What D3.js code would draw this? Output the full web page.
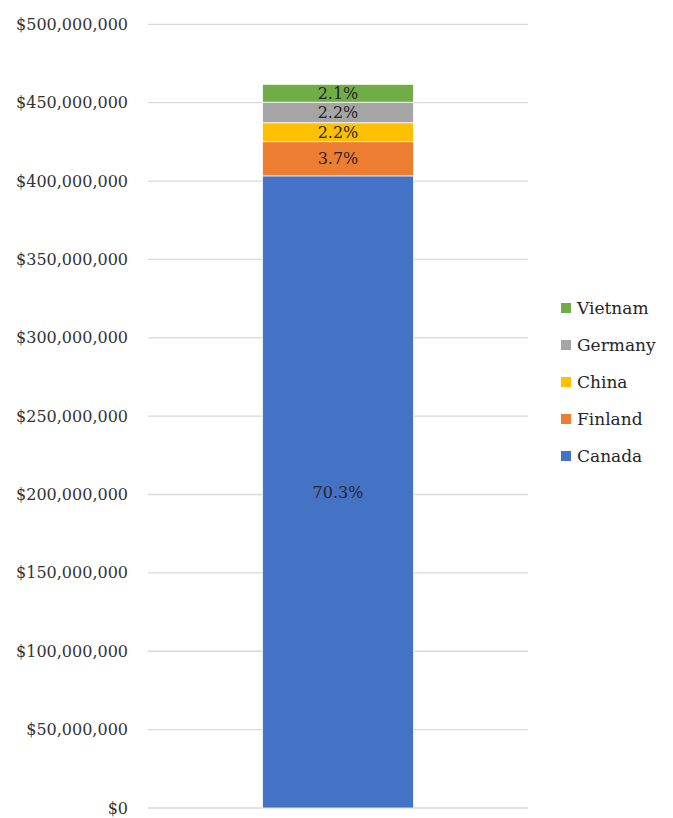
<!DOCTYPE html>
<html>
<head>
<meta charset="utf-8">
<script src="https://cdn.jsdelivr.net/npm/d3@7"></script>
<style>
  body { margin: 0; background: #fff; }
  text { font-family: "DejaVu Serif", "Liberation Serif", serif; }
</style>
</head>
<body>
<div id="chart"></div>
<script>
// data (US dollars)
const countries = ['Canada', 'Finland', 'China', 'Germany', 'Vietnam']
const values = [403300000, 21800000, 12100000, 13100000, 11400000]
const shareLabels = ['70.3%', '3.7%', '2.2%', '2.2%', '2.1%']
const colors = ['#4472C4', '#ED7D31', '#FFC000', '#A5A5A5', '#70AD47']
const yTicks = [0, 50000000, 100000000, 150000000, 200000000, 250000000, 300000000, 350000000, 400000000, 450000000, 500000000]

const width = 673, height = 818

const svg = d3.select('#chart').append('svg')
  .attr('width', width)
  .attr('height', height)

const y = d3.scaleLinear().domain([0, 500000000]).range([808, 24.3])
const x = d3.scaleBand().domain(['Total']).range([148, 528]).padding(0.4316)

// gridlines
svg.selectAll('.grid')
  .data(yTicks)
  .join('line')
  .attr('class', 'grid')
  .attr('x1', 148)
  .attr('x2', 528)
  .attr('y1', d => y(d))
  .attr('y2', d => y(d))
  .style('stroke', '#d9d9d9')
  .style('stroke-width', '1.3px')

// y axis labels
const fmt = d3.format('$,')
svg.selectAll('.ytick')
  .data(yTicks)
  .join('text')
  .attr('class', 'ytick')
  .attr('x', 128)
  .attr('y', d => y(d))
  .attr('dy', '0.35em')
  .attr('text-anchor', 'end')
  .attr('font-size', '16px')
  .attr('fill', '#333')
  .text(d => fmt(d))

// stacked segments
const stackRow = {}
countries.forEach((c, i) => stackRow[c] = values[i])
const series = d3.stack().keys(countries)([stackRow])

svg.selectAll('.seg')
  .data(series)
  .join('rect')
  .attr('class', 'seg')
  .attr('x', x('Total'))
  .attr('width', x.bandwidth())
  .attr('y', d => y(d[0][1]))
  .attr('height', d => y(d[0][0]) - y(d[0][1]))
  .attr('fill', (d, i) => colors[i])
  .attr('stroke', '#fff')
  .attr('stroke-width', 0.75)

svg.selectAll('.seglabel')
  .data(series)
  .join('text')
  .attr('class', 'seglabel')
  .attr('x', x('Total') + x.bandwidth() / 2)
  .attr('y', d => (y(d[0][0]) + y(d[0][1])) / 2)
  .attr('dy', '0.35em')
  .attr('text-anchor', 'middle')
  .attr('font-size', '16px')
  .attr('fill', '#262626')
  .text((d, i) => shareLabels[i])

// legend, Vietnam on top
const legendOrder = countries.map((c, i) => i).reverse()
const legend = svg.selectAll('.legend')
  .data(legendOrder)
  .join('g')
  .attr('class', 'legend')
  .attr('transform', (d, k) => `translate(561, ${308 + k * 37})`)

legend.append('rect')
  .attr('x', 0)
  .attr('y', -5)
  .attr('width', 10)
  .attr('height', 10)
  .attr('fill', d => colors[d])

legend.append('text')
  .attr('x', 16)
  .attr('y', 0)
  .attr('dy', '0.35em')
  .attr('font-size', '17px')
  .attr('fill', '#262626')
  .text(d => countries[d])
</script>
</body>
</html>
